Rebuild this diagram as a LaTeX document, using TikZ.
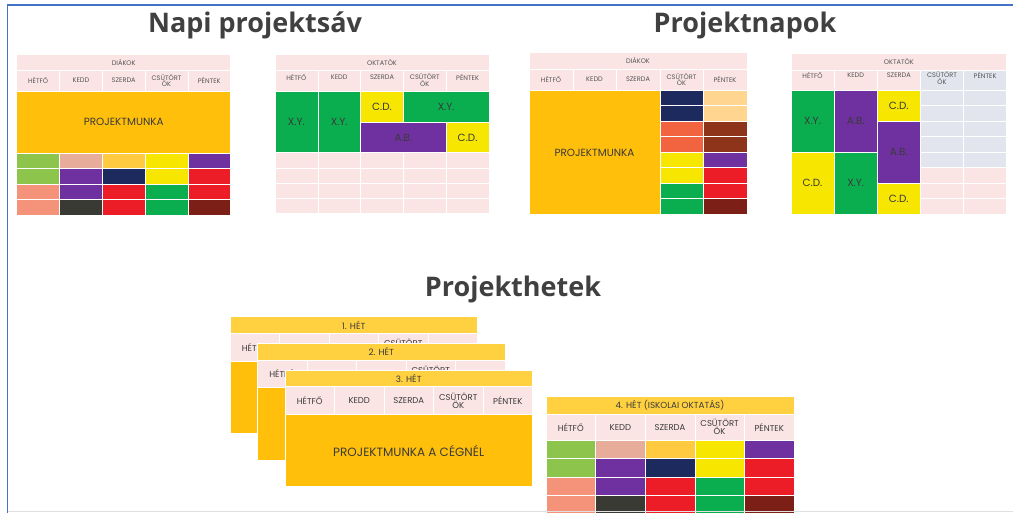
\documentclass[tikz,border=0pt]{standalone}
\usepackage{fontspec}
\setmainfont{Poppins}
\newfontfamily\titlefont{Open Sans}
\usetikzlibrary{positioning}

\definecolor{pinkhead}{HTML}{FBE4E4}
\definecolor{greyblue}{HTML}{E3E5EE}
\definecolor{pmorange}{HTML}{FFBF0A}
\definecolor{hdyellow}{HTML}{FFD03F}
\definecolor{lgreen}{HTML}{8DC54C}
\definecolor{salmonlt}{HTML}{E8AC9B}
\definecolor{gold}{HTML}{FFC940}
\definecolor{cyellow}{HTML}{F6E600}
\definecolor{cpurple}{HTML}{7031A0}
\definecolor{navy}{HTML}{1D2A5E}
\definecolor{cred}{HTML}{EC1D26}
\definecolor{salmon}{HTML}{F4927A}
\definecolor{cgreen}{HTML}{0BAE4F}
\definecolor{darkgrey}{HTML}{3A3A35}
\definecolor{darkred}{HTML}{7C1F16}
\definecolor{orred}{HTML}{F2633F}
\definecolor{peach}{HTML}{FFD590}
\definecolor{brown}{HTML}{8D341A}
\definecolor{textgrey}{HTML}{555555}
\definecolor{textdark}{HTML}{3A3A3A}
\definecolor{titlegrey}{HTML}{404040}
\definecolor{bordblue}{HTML}{4472C4}

\begin{document}
\begin{tikzpicture}[x=1pt,y=-1pt]
    \tikzset{
        cell/.style = {draw=white, line width=0.6pt},
        head/.style = {font=\fontsize{6.6}{6.6}\selectfont, text=textgrey, inner sep=0pt},
        day/.style = {font=\fontsize{6.6}{6.2}\selectfont, text=textgrey, align=center, inner sep=0pt},
        mid/.style = {font=\fontsize{10.4}{10}\selectfont, text=textdark, inner sep=0pt},
        cardhead/.style = {font=\fontsize{8.8}{8}\selectfont, text=textdark, inner sep=0pt},
        cardday/.style = {font=\fontsize{8.5}{8}\selectfont, text=textdark, align=center, inner sep=0pt},
        big/.style = {font=\fontsize{12}{12}\selectfont, text=textdark, inner sep=0pt},
        title/.style = {font=\titlefont\bfseries\fontsize{27}{27}\selectfont, text=titlegrey, anchor=base, inner sep=0pt},
    }
    \useasboundingbox (0,0) rectangle (1013,513);

    % titles
    \node[title](napi) at (255,33){Napi projektsáv};
    \node[title](napok) at (745,33){Projektnapok};
    \node[title](hetek) at (513,297){Projekthetek};

    % Napi projektsav - diakok
    \path[cell, fill=pinkhead] (16.7,54.3) rectangle (230.7,70);
    \path[cell, fill=pinkhead] (16.7,70) rectangle (59.5,91);
    \path[cell, fill=pinkhead] (59.5,70) rectangle (102.3,91);
    \path[cell, fill=pinkhead] (102.3,70) rectangle (145.1,91);
    \path[cell, fill=pinkhead] (145.1,70) rectangle (187.9,91);
    \path[cell, fill=pinkhead] (187.9,70) rectangle (230.7,91);
    \path[cell, fill=pmorange] (16.7,91) rectangle (230.7,153);
    \path[cell, fill=lgreen] (16.7,153) rectangle (59.5,168.5);
    \path[cell, fill=salmonlt] (59.5,153) rectangle (102.3,168.5);
    \path[cell, fill=gold] (102.3,153) rectangle (145.1,168.5);
    \path[cell, fill=cyellow] (145.1,153) rectangle (187.9,168.5);
    \path[cell, fill=cpurple] (187.9,153) rectangle (230.7,168.5);
    \path[cell, fill=lgreen] (16.7,168.5) rectangle (59.5,184);
    \path[cell, fill=cpurple] (59.5,168.5) rectangle (102.3,184);
    \path[cell, fill=navy] (102.3,168.5) rectangle (145.1,184);
    \path[cell, fill=cyellow] (145.1,168.5) rectangle (187.9,184);
    \path[cell, fill=cred] (187.9,168.5) rectangle (230.7,184);
    \path[cell, fill=salmon] (16.7,184) rectangle (59.5,199.5);
    \path[cell, fill=cpurple] (59.5,184) rectangle (102.3,199.5);
    \path[cell, fill=cred] (102.3,184) rectangle (145.1,199.5);
    \path[cell, fill=cgreen] (145.1,184) rectangle (187.9,199.5);
    \path[cell, fill=cred] (187.9,184) rectangle (230.7,199.5);
    \path[cell, fill=salmon] (16.7,199.5) rectangle (59.5,215);
    \path[cell, fill=darkgrey] (59.5,199.5) rectangle (102.3,215);
    \path[cell, fill=cred] (102.3,199.5) rectangle (145.1,215);
    \path[cell, fill=cgreen] (145.1,199.5) rectangle (187.9,215);
    \path[cell, fill=darkred] (187.9,199.5) rectangle (230.7,215);
    \node[head](a-diakok) at (123.7,62.2){DIÁKOK};
    \node[day](a-hetfo) at (38.1,80.5){HÉTFŐ};
    \node[day](a-kedd) at (80.9,80.5){KEDD};
    \node[day](a-szerda) at (123.7,80.5){SZERDA};
    \node[day](a-csut) at (166.5,80.5){CSÜTÖRT\\ÖK};
    \node[day](a-pentek) at (209.3,80.5){PÉNTEK};
    \node[mid](a-munka) at (123.7,122){PROJEKTMUNKA};

    % Napi projektsav - oktatok
    \path[cell, fill=pinkhead] (275,54.3) rectangle (489,70);
    \path[cell, fill=pinkhead] (275,70) rectangle (317.8,91.7);
    \path[cell, fill=pinkhead] (317.8,70) rectangle (360.6,91.7);
    \path[cell, fill=pinkhead] (360.6,70) rectangle (403.4,91.7);
    \path[cell, fill=pinkhead] (403.4,70) rectangle (446.2,91.7);
    \path[cell, fill=pinkhead] (446.2,70) rectangle (489,91.7);
    \path[cell, fill=cgreen] (275,91.7) rectangle (317.8,152.7);
    \path[cell, fill=cgreen] (317.8,91.7) rectangle (360.6,152.7);
    \path[cell, fill=cyellow] (360.6,91.7) rectangle (403.4,122.3);
    \path[cell, fill=cgreen] (403.4,91.7) rectangle (489,122.3);
    \path[cell, fill=cpurple] (360.6,122.3) rectangle (446.2,152.7);
    \path[cell, fill=cyellow] (446.2,122.3) rectangle (489,152.7);
    \path[cell, fill=pinkhead] (275,152.7) rectangle (489,213.7);
    \draw[cell] (275,168) -- (489,168) (275,183.3) -- (489,183.3) (275,198.5) -- (489,198.5)
        (317.8,152.7) -- (317.8,213.7) (360.6,152.7) -- (360.6,213.7)
        (403.4,152.7) -- (403.4,213.7) (446.2,152.7) -- (446.2,213.7);
    \node[head](b-oktatok) at (382,62.2){OKTATÓK};
    \node[day](b-hetfo) at (296.4,77.5){HÉTFŐ};
    \node[day](b-kedd) at (339.2,77.5){KEDD};
    \node[day](b-szerda) at (382,77.5){SZERDA};
    \node[day, anchor=north](b-csut) at (424.8,74){CSÜTÖRT\\ÖK};
    \node[day](b-pentek) at (467.6,77.5){PÉNTEK};
    \node[mid](b-xy1) at (296.4,122.2){X.Y.};
    \node[mid](b-xy2) at (339.2,122.2){X.Y.};
    \node[mid](b-cd1) at (382,107){C.D.};
    \node[mid](b-xy3) at (446.2,107){X.Y.};
    \node[mid](b-ab) at (403.4,137.5){A.B.};
    \node[mid](b-cd2) at (467.6,137.5){C.D.};

    % Projektnapok - diakok
    \path[cell, fill=pinkhead] (529.3,52.3) rectangle (746.8,69);
    \path[cell, fill=pinkhead] (529.3,69) rectangle (572.8,90);
    \path[cell, fill=pinkhead] (572.8,69) rectangle (616.3,90);
    \path[cell, fill=pinkhead] (616.3,69) rectangle (659.8,90);
    \path[cell, fill=pinkhead] (659.8,69) rectangle (703.3,90);
    \path[cell, fill=pinkhead] (703.3,69) rectangle (746.8,90);
    \path[cell, fill=pmorange] (529.3,90) rectangle (659.8,214);
    \path[cell, fill=navy] (659.8,90) rectangle (703.3,105.5);
    \path[cell, fill=navy] (659.8,105.5) rectangle (703.3,121);
    \path[cell, fill=orred] (659.8,121) rectangle (703.3,136.5);
    \path[cell, fill=orred] (659.8,136.5) rectangle (703.3,152);
    \path[cell, fill=cyellow] (659.8,152) rectangle (703.3,167.5);
    \path[cell, fill=cyellow] (659.8,167.5) rectangle (703.3,183);
    \path[cell, fill=cgreen] (659.8,183) rectangle (703.3,198.5);
    \path[cell, fill=cgreen] (659.8,198.5) rectangle (703.3,214);
    \path[cell, fill=peach] (703.3,90) rectangle (746.8,105.5);
    \path[cell, fill=peach] (703.3,105.5) rectangle (746.8,121);
    \path[cell, fill=brown] (703.3,121) rectangle (746.8,136.5);
    \path[cell, fill=brown] (703.3,136.5) rectangle (746.8,152);
    \path[cell, fill=cpurple] (703.3,152) rectangle (746.8,167.5);
    \path[cell, fill=cred] (703.3,167.5) rectangle (746.8,183);
    \path[cell, fill=cred] (703.3,183) rectangle (746.8,198.5);
    \path[cell, fill=darkred] (703.3,198.5) rectangle (746.8,214);
    \node[head](c-diakok) at (638,60.5){DIÁKOK};
    \node[day](c-hetfo) at (551,79.5){HÉTFŐ};
    \node[day](c-kedd) at (594.5,79.5){KEDD};
    \node[day](c-szerda) at (638,79.5){SZERDA};
    \node[day](c-csut) at (681.5,79.5){CSÜTÖRT\\ÖK};
    \node[day](c-pentek) at (725,79.5){PÉNTEK};
    \node[mid](c-munka) at (594.5,152.5){PROJEKTMUNKA};

    % Projektnapok - oktatok
    \path[cell, fill=pinkhead] (791,53.3) rectangle (1006.7,70);
    \path[cell, fill=pinkhead] (791,70) rectangle (834.1,90);
    \path[cell, fill=pinkhead] (834.1,70) rectangle (877.3,90);
    \path[cell, fill=pinkhead] (877.3,70) rectangle (920.4,90);
    \path[cell, fill=greyblue] (920.4,70) rectangle (963.6,90);
    \path[cell, fill=greyblue] (963.6,70) rectangle (1006.7,90);
    \path[cell, fill=cgreen] (791,90) rectangle (834.1,152);
    \path[cell, fill=cyellow] (791,152) rectangle (834.1,214);
    \path[cell, fill=cpurple] (834.1,90) rectangle (877.3,152);
    \path[cell, fill=cgreen] (834.1,152) rectangle (877.3,214);
    \path[cell, fill=cyellow] (877.3,90) rectangle (920.4,121);
    \path[cell, fill=cpurple] (877.3,121) rectangle (920.4,183);
    \path[cell, fill=cyellow] (877.3,183) rectangle (920.4,214);
    \path[cell, fill=greyblue] (920.4,90) rectangle (1006.7,167.5);
    \path[cell, fill=pinkhead] (920.4,167.5) rectangle (1006.7,214);
    \draw[cell] (920.4,105.5) -- (1006.7,105.5) (920.4,121) -- (1006.7,121)
        (920.4,136.5) -- (1006.7,136.5) (920.4,152) -- (1006.7,152)
        (920.4,183) -- (1006.7,183) (920.4,198.5) -- (1006.7,198.5)
        (963.6,90) -- (963.6,214);
    \node[head](d-oktatok) at (898.8,61.5){OKTATÓK};
    \node[day](d-hetfo) at (812.5,75.5){HÉTFŐ};
    \node[day](d-kedd) at (855.7,75.5){KEDD};
    \node[day](d-szerda) at (898.8,75.5){SZERDA};
    \node[day, anchor=north](d-csut) at (942,72){CSÜTÖRT\\ÖK};
    \node[day](d-pentek) at (985.1,75.5){PÉNTEK};
    \node[mid](d-xy1) at (812.5,121){X.Y.};
    \node[mid](d-cd1) at (812.5,183){C.D.};
    \node[mid](d-ab1) at (855.7,121){A.B.};
    \node[mid](d-xy2) at (855.7,183){X.Y.};
    \node[mid](d-cd2) at (898.8,105.5){C.D.};
    \node[mid](d-ab2) at (898.8,152){A.B.};
    \node[mid](d-cd3) at (898.8,198.5){C.D.};

    % Projekthetek - 1. het
    \path[cell, fill=hdyellow] (230,316.7) rectangle (477.5,333.4);
    \path[cell, fill=pinkhead] (230,333.4) rectangle (279.5,360.9);
    \path[cell, fill=pinkhead] (279.5,333.4) rectangle (329,360.9);
    \path[cell, fill=pinkhead] (329,333.4) rectangle (378.5,360.9);
    \path[cell, fill=pinkhead] (378.5,333.4) rectangle (428,360.9);
    \path[cell, fill=pinkhead] (428,333.4) rectangle (477.5,360.9);
    \path[cell, fill=pmorange] (230,360.9) rectangle (477.5,433.4);
    \node[cardhead](h1-title) at (353.75,325){1. HÉT};
    \node[cardday](h1-hetfo) at (254.75,347.2){HÉTFŐ};
    \node[cardday](h1-csut) at (403.25,347.2){CSÜTÖRT\\ÖK};

    % Projekthetek - 2. het
    \path[cell, fill=hdyellow] (257.5,343.4) rectangle (505,360.1);
    \path[cell, fill=pinkhead] (257.5,360.1) rectangle (307,387.6);
    \path[cell, fill=pinkhead] (307,360.1) rectangle (356.5,387.6);
    \path[cell, fill=pinkhead] (356.5,360.1) rectangle (406,387.6);
    \path[cell, fill=pinkhead] (406,360.1) rectangle (455.5,387.6);
    \path[cell, fill=pinkhead] (455.5,360.1) rectangle (505,387.6);
    \path[cell, fill=pmorange] (257.5,387.6) rectangle (505,460.1);
    \node[cardhead](h2-title) at (381.25,351.8){2. HÉT};
    \node[cardday](h2-hetfo) at (282.25,373.9){HÉTFŐ};
    \node[cardday](h2-csut) at (430.75,373.9){CSÜTÖRT\\ÖK};

    % Projekthetek - 3. het
    \path[cell, fill=hdyellow] (285,370) rectangle (532.5,386.7);
    \path[cell, fill=pinkhead] (285,386.7) rectangle (334.5,414.2);
    \path[cell, fill=pinkhead] (334.5,386.7) rectangle (384,414.2);
    \path[cell, fill=pinkhead] (384,386.7) rectangle (433.5,414.2);
    \path[cell, fill=pinkhead] (433.5,386.7) rectangle (483,414.2);
    \path[cell, fill=pinkhead] (483,386.7) rectangle (532.5,414.2);
    \path[cell, fill=pmorange] (285,414.2) rectangle (532.5,486.7);
    \node[cardhead](h3-title) at (408.75,378.4){3. HÉT};
    \node[cardday](h3-hetfo) at (309.75,400.5){HÉTFŐ};
    \node[cardday](h3-kedd) at (359.25,400.5){KEDD};
    \node[cardday](h3-szerda) at (408.75,400.5){SZERDA};
    \node[cardday](h3-csut) at (458.25,400.5){CSÜTÖRT\\ÖK};
    \node[cardday](h3-pentek) at (507.75,400.5){PÉNTEK};
    \node[big](h3-munka) at (408.75,450.5){PROJEKTMUNKA A CÉGNÉL};

    % Projekthetek - 4. het
    \path[cell, fill=hdyellow] (546,396.7) rectangle (794,414.3);
    \path[cell, fill=pinkhead] (546,414.3) rectangle (595.6,440);
    \path[cell, fill=pinkhead] (595.6,414.3) rectangle (645.2,440);
    \path[cell, fill=pinkhead] (645.2,414.3) rectangle (694.8,440);
    \path[cell, fill=pinkhead] (694.8,414.3) rectangle (744.4,440);
    \path[cell, fill=pinkhead] (744.4,414.3) rectangle (794,440);
    \path[cell, fill=lgreen] (546,440) rectangle (595.6,458.5);
    \path[cell, fill=salmonlt] (595.6,440) rectangle (645.2,458.5);
    \path[cell, fill=gold] (645.2,440) rectangle (694.8,458.5);
    \path[cell, fill=cyellow] (694.8,440) rectangle (744.4,458.5);
    \path[cell, fill=cpurple] (744.4,440) rectangle (794,458.5);
    \path[cell, fill=lgreen] (546,458.5) rectangle (595.6,477);
    \path[cell, fill=cpurple] (595.6,458.5) rectangle (645.2,477);
    \path[cell, fill=navy] (645.2,458.5) rectangle (694.8,477);
    \path[cell, fill=cyellow] (694.8,458.5) rectangle (744.4,477);
    \path[cell, fill=cred] (744.4,458.5) rectangle (794,477);
    \path[cell, fill=salmon] (546,477) rectangle (595.6,495.5);
    \path[cell, fill=cpurple] (595.6,477) rectangle (645.2,495.5);
    \path[cell, fill=cred] (645.2,477) rectangle (694.8,495.5);
    \path[cell, fill=cgreen] (694.8,477) rectangle (744.4,495.5);
    \path[cell, fill=cred] (744.4,477) rectangle (794,495.5);
    \path[cell, fill=salmon] (546,495.5) rectangle (595.6,515);
    \path[cell, fill=darkgrey] (595.6,495.5) rectangle (645.2,515);
    \path[cell, fill=cred] (645.2,495.5) rectangle (694.8,515);
    \path[cell, fill=cgreen] (694.8,495.5) rectangle (744.4,515);
    \path[cell, fill=darkred] (744.4,495.5) rectangle (794,515);
    \node[cardhead](h4-title) at (670,405.5){4. HÉT (ISKOLAI OKTATÁS)};
    \node[cardday](h4-hetfo) at (570.8,427.2){HÉTFŐ};
    \node[cardday](h4-kedd) at (620.4,427.2){KEDD};
    \node[cardday](h4-szerda) at (670,427.2){SZERDA};
    \node[cardday](h4-csut) at (719.6,427.2){CSÜTÖRT\\ÖK};
    \node[cardday](h4-pentek) at (769.2,427.2){PÉNTEK};

    % frame
    \draw[black!12, line width=1pt] (7.3,511.8) -- (1013,511.8);
    \draw[bordblue, line width=1.3pt] (1013,5) -- (7.3,5) -- (7.3,513);

\end{tikzpicture}
\end{document}
